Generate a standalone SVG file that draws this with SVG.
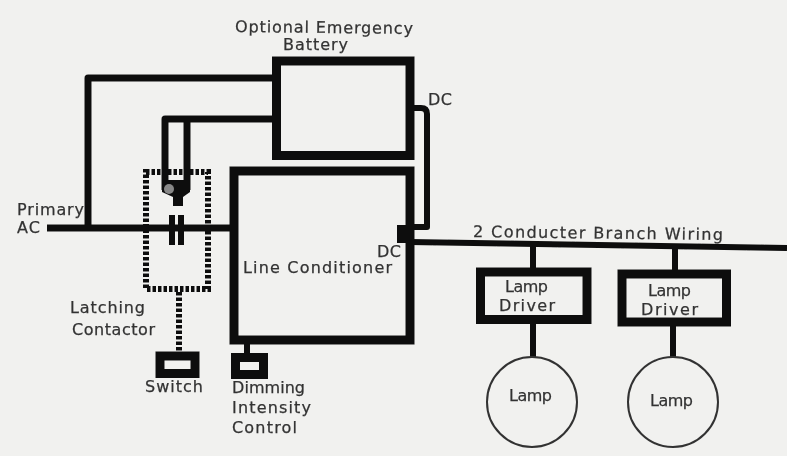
<svg xmlns="http://www.w3.org/2000/svg" width="787" height="456" viewBox="0 0 787 456">
<defs><filter id="soft" x="-2%" y="-2%" width="104%" height="104%"><feGaussianBlur stdDeviation="0.7"/></filter></defs>
<style>
text{font-family:"DejaVu Sans",sans-serif;font-size:16px;fill:#333;stroke:#333;stroke-width:.25}
.w{fill:none;stroke:#111;stroke-linejoin:round}
.box{fill:none;stroke:#111;stroke-width:9}
.d{fill:none;stroke:#111;stroke-width:6;stroke-dasharray:3.5 2}
.c{fill:#f1f1ef;stroke:#333;stroke-width:2}
.f{fill:#111}
</style>
<rect width="787" height="456" fill="#f1f1ef"/>
<g filter="url(#soft)">
<g id="connectors">
<path class="w" stroke-width="7" d="M47 228H232"/>
<path class="w" stroke-width="7" d="M88 228V78H274"/>
<path class="w" stroke-width="7" d="M187 190V119H274M165 190V119H187"/>
<path class="w" stroke-width="6" d="M412 108H421Q427 108 427 114V227H410"/>
<path class="w" stroke-width="6" d="M410 242L787 248"/>
<path class="w" stroke-width="6" d="M533 244V268M675 247V270M533 320V358M673 322V358"/>
<path class="w" stroke-width="6" d="M247 343V354"/>
<path class="d" d="M179 292V352"/>
</g>
<g id="battery"><rect class="box" x="276.500" y="61" width="133.500" height="94.500"/><text x="235" y="32" textLength="178" transform="rotate(0.6 235 32)">Optional Emergency</text><text x="283" y="50" textLength="65">Battery</text></g>
<g id="contactor"><rect class="d" x="146" y="172" width="62" height="117"/>
<path class="f" d="M162 180H190V192L183 197V206H173V197L162 192Z"/><circle cx="169" cy="189" r="5" fill="#888"/>
<path class="w" stroke-width="6" d="M172 215V245M181 215V245"/>
<text x="70" y="313" textLength="75">Latching</text><text x="72" y="335" textLength="83">Contactor</text></g>
<g id="conditioner"><rect class="box" x="234" y="171" width="176" height="169" stroke-width="8"/><rect class="f" x="397" y="225" width="17" height="18"/><text x="243" y="273" textLength="149">Line Conditioner</text></g>
<g id="primary"><text x="17" y="215" textLength="67">Primary</text><text x="17" y="233" textLength="23">AC</text></g>
<g id="dc"><text x="428" y="105" textLength="24">DC</text><text x="377" y="257" textLength="24">DC</text></g>
<g id="wiring"><text x="473" y="237" textLength="250" transform="rotate(0.7 473 237)">2 Conducter Branch Wiring</text></g>
<g id="driver1"><rect class="box" x="480.500" y="272" width="106.500" height="47.500"/><text x="505" y="292" textLength="43">Lamp</text><text x="499" y="311" textLength="56">Driver</text></g>
<g id="driver2"><rect class="box" x="622" y="274" width="104.500" height="48"/><text x="648" y="296" textLength="43">Lamp</text><text x="641" y="315" textLength="57">Driver</text></g>
<g id="lamp1"><circle class="c" cx="532" cy="402" r="45"/><text x="509" y="401" textLength="43">Lamp</text></g>
<g id="lamp2"><circle class="c" cx="673" cy="402" r="45"/><text x="650" y="406" textLength="43">Lamp</text></g>
<g id="switch"><rect class="box" x="160" y="356" width="35" height="17.500"/><text x="145" y="392" textLength="58">Switch</text></g>
<g id="dimming"><rect class="box" x="235.500" y="357.500" width="28" height="17"/><text x="232" y="393" textLength="73">Dimming</text><text x="232" y="413" textLength="79">Intensity</text><text x="232" y="433" textLength="65">Control</text></g>
</g>
</svg>
